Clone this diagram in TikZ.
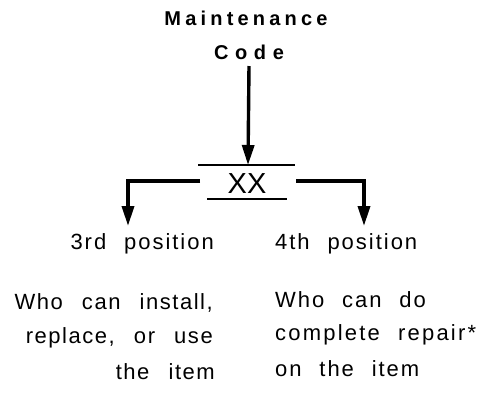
\documentclass[tikz,border=0pt]{standalone}
\usepackage{fontspec}
\setmainfont{Liberation Sans}
\newfontfamily\spaced[LetterSpace=7,WordSpace=2.5]{Liberation Sans}
\newfontfamily\spacedr[LetterSpace=9,WordSpace=2.2]{Liberation Sans}
\newfontfamily\spacedw[LetterSpace=10,WordSpace=2.2]{Liberation Sans}
\newfontfamily\spacedbold[LetterSpace=21,WordSpace=1.6]{Liberation Sans Bold}
\newfontfamily\widebold[LetterSpace=33,WordSpace=1.6]{Liberation Sans Bold}
\usetikzlibrary{arrows.meta}
\tikzset{
  title/.style={font=\spacedbold\fontsize{20}{24}\selectfont, inner sep=0pt},
  wtitle/.style={font=\widebold\fontsize{20}{24}\selectfont, inner sep=0pt},
  body/.style={font=\spaced\fontsize{22}{26}\selectfont, inner sep=0pt},
  bodyr/.style={font=\spacedr\fontsize{22}{26}\selectfont, inner sep=0pt},
  bodyw/.style={font=\spacedw\fontsize{22}{26}\selectfont, inner sep=0pt},
  xxstyle/.style={font=\fontsize{29}{32}\selectfont, inner sep=0pt},
  conn/.style={line width=3.4pt, -{Triangle[length=20pt,width=12pt]}},
  rule/.style={line width=1.8pt},
}
\begin{document}
\begin{tikzpicture}[x=1pt,y=-1pt]
\useasboundingbox (0,0) rectangle (483,392);
\node[title] (m) at (246,18) {Maintenance};
\node[wtitle] (c) at (249,52) {Code};
\node[xxstyle] (xx) at (247,184) {XX};
\coordinate (tl) at (198,165);
\coordinate (tr) at (295,165);
\coordinate (bl) at (207,199);
\coordinate (br) at (287,199);
\coordinate (tip) at (248,165);
\coordinate (cs) at (249,66);
\draw[rule] (tl) -- (tr);
\draw[rule] (bl) -- (br);
\draw[conn] (cs) -- (tip);
\coordinate (ls) at (200,181);
\coordinate (le) at (128,226);
\coordinate (rs) at (296,181);
\coordinate (re) at (364,226);
\draw[conn] (ls) -| (le);
\draw[conn] (rs) -| (re);
\node[bodyr, anchor=east] (p3) at (214,244) {3rd position};
\node[bodyr, anchor=west] (p4) at (275,244) {4th position};
\node[body, anchor=east] (l1) at (213,303) {Who can install,};
\node[body, anchor=east] (l2) at (213,338) {replace, or use};
\node[body, anchor=east] (l3) at (215,372) {the item};
\node[bodyr, anchor=west] (r1) at (275,300) {Who can do};
\node[bodyw, anchor=west] (r2) at (275,335) {complete repair*};
\node[bodyr, anchor=west] (r3) at (275,369) {on the item};
\end{tikzpicture}
\end{document}
